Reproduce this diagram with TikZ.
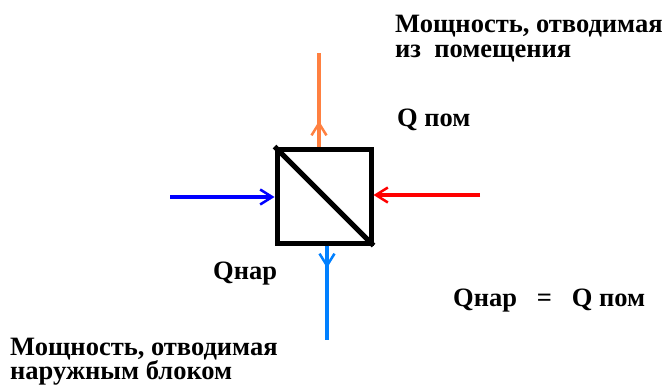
\documentclass[tikz,border=0pt]{standalone}
\usepackage{fontspec}
\setmainfont{Liberation Serif}
\newfontfamily\lblfont{Liberation Serif}
\usetikzlibrary{arrows.meta}
\definecolor{orangeA}{RGB}{255,128,64}
\definecolor{blueA}{RGB}{0,0,255}
\definecolor{redA}{RGB}{255,0,0}
\definecolor{skyA}{RGB}{0,128,255}
\tikzset{
  flow/.style={line width=4pt, -{Straight Barb[length=12pt,width=15pt,line width=2.5pt]}},
  plain/.style={line width=4pt},
  lbl/.style={font=\lblfont\bfseries\fontsize{26.5}{26}\selectfont, inner sep=0pt, anchor=base west},
}
\begin{document}
\begin{tikzpicture}[x=1pt,y=-1pt]
\useasboundingbox (0,0) rectangle (669,385);
\fill[white] (0,0) rectangle (669,385);
% unit
\node[draw, line width=5pt, minimum width=94pt, minimum height=94pt, inner sep=0pt] (unit) at (324,196) {};
\draw[line width=5pt] (unit.north west) -- (unit.south east);
% orange (up)
\coordinate (oTop) at (319,53);
\coordinate (oMid) at (319,121);
\draw[plain, orangeA] (unit.north -| oTop) -- (oTop);
\draw[flow, orangeA] (unit.north -| oTop) -- (oMid);
% blue (left, in)
\coordinate (bStart) at (170,197);
\draw[flow, blueA] (bStart) -- (bStart -| unit.west);
% red (right, in)
\coordinate (rStart) at (480,195);
\draw[flow, redA] (rStart) -- (rStart -| unit.east);
% sky (down)
\coordinate (sEnd) at (327,340);
\coordinate (sMid) at (327,268);
\draw[plain, skyA] (unit.south -| sEnd) -- (sEnd);
\draw[flow, skyA] (unit.south -| sEnd) -- (sMid);
% labels
\node[lbl] (t1a) at (395,33) {Мощность, отводимая};
\node[lbl] (t1b) at (395,58) {из\ \ помещения};
\node[lbl] (qpom) at (397,127) {Q пом};
\node[lbl] (qnar) at (213,279) {Qнар};
\node[lbl] (eq) at (453,306) {Qнар\ \ \ =\ \ \ Q пом};
\node[lbl] (t2a) at (10,355) {Мощность, отводимая};
\node[lbl] (t2b) at (10,379) {наружным блоком};
\end{tikzpicture}
\end{document}
